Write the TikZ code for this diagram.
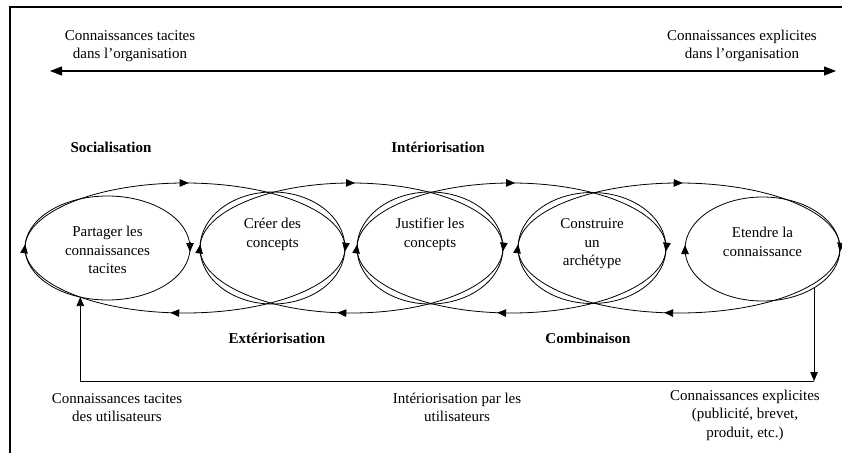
\documentclass[tikz,border=0pt]{standalone}
\usepackage{fontspec}
\setmainfont{Liberation Serif}
\usetikzlibrary{arrows.meta,calc,decorations.markings,positioning,shapes.geometric}

\begin{document}
\begin{tikzpicture}[x=1pt,y=1pt,
    >={Triangle[length=9pt,width=7.5pt]},
    phase/.style={draw,ellipse,inner sep=0pt,outer sep=0pt,line width=0.8pt},
    note/.style={align=center,font=\fontsize{15}{18.5}\selectfont},
    mode/.style={font=\fontsize{15}{18}\selectfont\bfseries},
    spiral/.style={line width=0.8pt,postaction={decorate},
      decoration={markings,
        mark=at position 0.005 with {\arrow{>}},
        mark=at position 0.255 with {\arrow{>}},
        mark=at position 0.505 with {\arrow{>}},
        mark=at position 0.770 with {\arrow{>}}}}
  ]
  \useasboundingbox (0,0) rectangle (842,453);
  \fill[white] (0,0) rectangle (842,453);
  \draw[line width=1.6pt] (10,0) -- (10,446) -- (842,446);

  % axe tacite / explicite
  \node[note] (tacit) at (130,407) {Connaissances tacites\\dans l’organisation};
  \node[note] (explicit) at (742,407) {Connaissances explicites\\dans l’organisation};
  \coordinate (tacitend) at (50,382);
  \coordinate (explicitend) at (836,382);
  \draw[{Triangle[length=12pt,width=9pt]}-{Triangle[length=12pt,width=9pt]},
    line width=1.1pt] (tacitend) -- (explicitend);

  % les cinq phases
  \node[phase,minimum width=165,minimum height=104] (e1) at (107.5,205) {};
  \node[phase,minimum width=145,minimum height=112] (e2) at (272.5,205) {};
  \node[phase,minimum width=146,minimum height=112] (e3) at (430,205) {};
  \node[phase,minimum width=148,minimum height=111] (e4) at (592,205) {};
  \node[phase,minimum width=155,minimum height=104] (e5) at (762.5,204) {};

  \node[note] (t1) at ([yshift=-2]e1) {Partager les\\connaissances\\tacites};
  \node[note] (t2) at ([yshift=13.5]e2) {Créer des\\concepts};
  \node[note] (t3) at ([yshift=13.5]e3) {Justifier les\\concepts};
  \node[note] (t4) at ([yshift=4]e4) {Construire\\un\\archétype};
  \node[note] (t5) at ([yshift=7]e5) {Etendre la\\connaissance};

  % boucles entre phases
  \foreach \a/\b in {e1/e2,e2/e3,e3/e4,e4/e5} {
    \draw[spiral] let \p1=(\a.west), \p2=(\b.east) in
      (\p1) arc[start angle=180,delta angle=-360,
        x radius={(\x2-\x1)/2},y radius=65pt];
  }
  \draw[->,line width=0.8pt] ([yshift=6]e1.east) -- ([yshift=-4]e1.east);
  \draw[->,line width=0.8pt] ([yshift=-6]e5.west) -- ([yshift=4]e5.west);

  \node[mode] (soc) at (111,306) {Socialisation};
  \node[mode] (inte) at (438,306) {Intériorisation};
  \node[mode] (exte) at (277,115) {Extériorisation};
  \node[mode] (comb) at (588,115) {Combinaison};

  % retour par les utilisateurs
  \coordinate (floor) at (0,72);
  \draw[->,line width=0.8pt] (e5.-37) -- (e5.-37 |- floor);
  \draw[->,line width=0.8pt] (e5.-37 |- floor) -| (e1.-119);

  \node[note] (users) at (117,45.5) {Connaissances tacites\\des utilisateurs};
  \node[note] (byusers) at (457,45.5) {Intériorisation par les\\utilisateurs};
  \node[note] (output) at (745,38) {Connaissances explicites\\(publicité, brevet,\\produit, etc.)};
\end{tikzpicture}
\end{document}
